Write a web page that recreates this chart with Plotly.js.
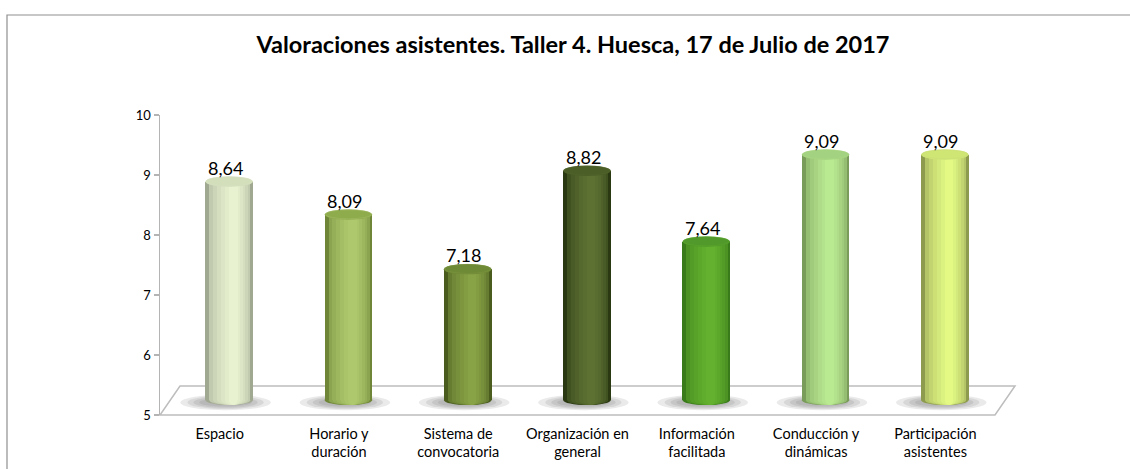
<!DOCTYPE html>
<html><head><meta charset="utf-8">
<script src="https://cdn.plot.ly/plotly-3.0.1.min.js"></script>
<style>html,body{margin:0;padding:0;background:#fff;}#chart{width:1130px;height:469px;}</style>
</head><body><div id="chart"></div>
<script>
// ---- data ----
const categories = ['Espacio','Horario y<br>duración','Sistema de<br>convocatoria','Organización en<br>general','Información<br>facilitada','Conducción y<br>dinámicas','Participación<br>asistentes'];
const values = [8.64, 8.09, 7.18, 8.82, 7.64, 9.09, 9.09];
const yTickVals = [5, 6, 7, 8, 9, 10];
const titleText = 'Valoraciones asistentes. Taller 4. Huesca, 17 de Julio de 2017';

// ---- styles ----
const edgeColors = ['#a1a892','#6f8638','#4a5d1f','#2b3912','#397a1a','#7a9c5a','#8c9b4e'];
const highColors = ['#e8f2d0','#aec96d','#88a346','#5d7133','#63b12f','#b9e991','#e3f984'];
const topColors  = ['#d3dfbb','#8fac4c','#6f8a36','#4b5e27','#50992a','#a3d380','#cfe574'];
const FONT = 'Lato, "Liberation Sans", sans-serif';

const W = 1130, H = 469;
const M = {l:160, r:135, t:115, b:54};
const plotW = W - M.l - M.r, plotH = H - M.t - M.b;
const xRange = [-0.5, categories.length - 0.5];
const yRange = [5, 10];
const pxX = plotW / (xRange[1] - xRange[0]);
const pxY = plotH / (yRange[1] - yRange[0]);
const dx = 9.5 / pxX, dy = 15 / pxY;         // bars sit half-way into the floor depth
const bdx = 20 / pxX, bdy = 29 / pxY;        // back edge of floor
const barW = 0.40;

function hexToRgb(h){h=h.replace('#','');return [0,2,4].map(i=>parseInt(h.substr(i,2),16));}
function mix(a,b,t){const A=hexToRgb(a),B=hexToRgb(b);return 'rgb('+A.map((v,i)=>Math.round(v+(B[i]-v)*t)).join(',')+')';}

const idx = values.map((v,i)=>i);
const NL = 7;
const layers = [];
for (let k=0;k<NL;k++){
  const t = k/(NL-1);
  const w = barW*(1-0.82*t);
  const s = 0.035*t;
  const cols = edgeColors.map((e,i)=>mix(e, highColors[i], Math.pow(t,0.45)));
  layers.push({w, s, cols});
}

const traces = layers.map(L=>({
  type:'bar', x: idx, y: values, xaxis:'x2', yaxis:'y2',
  width: L.w, offset: -L.w/2 + L.s,
  marker:{color:L.cols, line:{width:0}},
  hoverinfo:'skip', showlegend:false
}));

const shapes = [];
// chart border (paper coords)
const toPX = px => (px - M.l)/plotW;
const toPY = py => (H - M.b - py)/plotH;
shapes.push({type:'rect', xref:'paper', yref:'paper', x0:toPX(7), x1:toPX(1145), y0:toPY(490), y1:toPY(15),
  line:{color:'#8f8f8f', width:1.2}, fillcolor:'rgba(0,0,0,0)', layer:'below'});
// floor
const xp = v => (v - xRange[0])/(xRange[1]-xRange[0]);
const yp = v => (v - yRange[0])/(yRange[1]-yRange[0]);
shapes.push({type:'path', xref:'paper', yref:'paper',
  path:`M ${xp(xRange[0])},${yp(5)} L ${xp(xRange[1])},${yp(5)} L ${xp(xRange[1]+bdx)},${yp(5+bdy)} L ${xp(xRange[0]+bdx)},${yp(5+bdy)} Z`,
  line:{color:'#bdbdbd', width:1.5}, fillcolor:'rgba(0,0,0,0)', layer:'below'});
// shadows
values.forEach((v,i)=>{
  const cx = i + dx - 0.03, cy = 5 + dy - 0.04;
  [[0.38,0.13],[0.32,0.11],[0.27,0.09],[0.22,0.07]].forEach(([a,b])=>{
    shapes.push({type:'circle', xref:'x', yref:'y', x0:cx-a, x1:cx+a, y0:cy-b, y1:cy+b,
      fillcolor:'#505050', opacity:0.12, line:{width:0}, layer:'below'});
  });
});
// rounded bottoms
values.forEach((v,i)=>{
  layers.forEach(L=>{
    const cx = i + dx + L.s;
    shapes.push({type:'circle', xref:'x', yref:'y', x0:cx-L.w/2, x1:cx+L.w/2, y0:5+dy-0.085, y1:5+dy+0.085,
      fillcolor:L.cols[i], line:{width:0}, layer:'below'});
  });
});
// tops
values.forEach((v,i)=>{
  const cx = i + dx;
  shapes.push({type:'circle', xref:'x', yref:'y', x0:cx-barW/2, x1:cx+barW/2, y0:v+dy-0.085, y1:v+dy+0.085,
    fillcolor:topColors[i], line:{width:0}, layer:'above'});
  shapes.push({type:'circle', xref:'x', yref:'y', x0:cx-barW/2+0.01, x1:cx+barW/2-0.01, y0:v+dy-0.07, y1:v+dy+0.08,
    fillcolor:'rgba(0,0,0,0)', line:{color:mix(edgeColors[i], highColors[i], 0.75), width:1}, layer:'above', opacity:0.8});
});

const annotations = values.map((v,i)=>({
  xref:'x2', yref:'y2', x:i, y:v, text: v.toFixed(2).replace('.',','),
  showarrow:false, yanchor:'bottom', xanchor:'center', xshift:-4, yshift:1,
  font:{family:FONT, size:18, color:'#000'}
}));

const layout = {
  width:W, height:H, margin:M,
  paper_bgcolor:'#ffffff', plot_bgcolor:'rgba(0,0,0,0)',
  barmode:'overlay', bargap:0, showlegend:false,
  title:{text:'<b>'+titleText+'</b>', font:{family:FONT, size:23.5, color:'#000'},
    xref:'paper', x:(573-M.l)/plotW, xanchor:'center', yref:'container', y:1-45/H, yanchor:'middle'},
  xaxis:{range:xRange, tickvals:idx, ticktext:categories, showgrid:false, zeroline:false, showline:false,
    ticks:'', tickfont:{family:FONT, size:14.5, color:'#000'}, fixedrange:true, ticklabelstandoff:8},
  yaxis:{range:yRange, tickvals:yTickVals, showgrid:false, zeroline:false, showline:true, linecolor:'#b4b4b4', linewidth:1.5,
    ticks:'outside', ticklen:5, tickcolor:'#b4b4b4', tickwidth:1.2, tickfont:{family:FONT, size:13, color:'#000'}, fixedrange:true},
  xaxis2:{anchor:'y2', domain:[0,1], range:[xRange[0]-dx, xRange[1]-dx], visible:false, fixedrange:true},
  yaxis2:{anchor:'x2', domain:[dy/(yRange[1]-yRange[0]),1], range:[5, yRange[1]-dy], visible:false, fixedrange:true},
  shapes, annotations
};
Plotly.newPlot('chart', traces, layout, {staticPlot:true, displayModeBar:false});
</script></body></html>
